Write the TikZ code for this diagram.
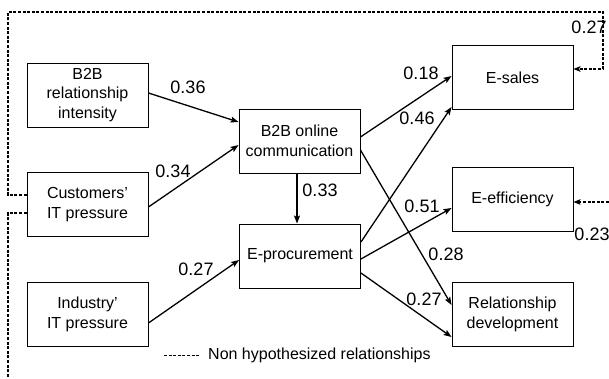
\documentclass[tikz,border=0pt]{standalone}
\usepackage{fontspec}
\setmainfont{Liberation Sans}
\usetikzlibrary{arrows.meta}
\begin{document}
\begin{tikzpicture}[x=1pt,y=-1pt,
  box/.style={draw, line width=0.9pt, minimum width=121pt, minimum height=64pt, inner sep=0pt, align=center, font=\fontsize{16}{19.5}\selectfont},
  lbl/.style={font=\fontsize{18}{20}\selectfont, inner sep=0pt},
  arr/.style={line width=1.3pt, -{Stealth[length=8pt,width=6pt,inset=1.5pt]}},
  darr/.style={line width=1.2pt, dash pattern=on 3pt off 1.6pt},
  tip/.style={-{Stealth[length=7pt,width=5.5pt,inset=1.5pt]}}]
\useasboundingbox (0,0) rectangle (609,378);
% boxes
\node[box] (bri) at (87.5,95) {B2B\\relationship\\intensity};
\node[box] (cus) at (87.5,204.5) {Customers’\\IT pressure};
\node[box] (ind) at (87.5,314.5) {Industry’\\IT pressure};
\node[box] (com) at (299.5,141) {B2B online\\communication};
\node[box] (pro) at (300,256) {E-procurement};
\node[box] (sal) at (512.5,77.5) {E-sales};
\node[box] (eff) at (512.5,199) {E-efficiency};
\node[box] (rel) at (512.5,314.5) {Relationship\\development};
% solid arrows
\draw[arr] ([yshift=2pt]bri.east) -- ([yshift=19pt]com.west);
\draw[arr] ([yshift=-2.5pt]cus.east) -- ([yshift=-4pt]com.west);
\draw[arr] ([yshift=-8.5pt]ind.east) -- ([yshift=-4pt]pro.west);
\draw[arr] ([xshift=-2.5pt]com.south) -- ([xshift=-3pt]pro.north);
\draw[arr] ([yshift=4pt]com.east) -- ([yshift=1.5pt]sal.west);
\draw[arr] ([yshift=14pt]pro.east) -- ([yshift=3pt]sal.south west);
\draw[arr] ([yshift=-3pt]pro.east) -- ([yshift=-9pt]eff.west);
\draw[arr] ([yshift=-9pt]com.east) -- ([yshift=9.5pt]rel.west);
\draw[arr] ([yshift=-17pt]pro.east) -- ([yshift=-22.5pt]rel.west);
% dashed relationships
\coordinate (d1) at (8,195);
\coordinate (d2) at (8,12);
\coordinate (d3) at (603,12);
\coordinate (d4) at (603,69);
\draw[darr, tip] (cus.west |- d1) -- (d1) -- (d2) -- (d3) -- (d4) -- (sal.east |- d4);
\coordinate (e1) at (8,213);
\coordinate (e2) at (8,378);
\draw[darr] (cus.west |- e1) -- (e1) -- (e2);
\coordinate (f1) at (609,202);
\draw[darr, tip] (f1) -- (eff.east |- f1);
% labels
\node[lbl] (l1) at (188,87) {0.36};
\node[lbl] (l2) at (173,171) {0.34};
\node[lbl] (l3) at (196,269) {0.27};
\node[lbl] (l4) at (320,190) {0.33};
\node[lbl] (l5) at (421,73) {0.18};
\node[lbl] (l6) at (417,118) {0.46};
\node[lbl] (l7) at (422,206) {0.51};
\node[lbl] (l8) at (446,254) {0.28};
\node[lbl] (l9) at (424,299) {0.27};
\node[lbl] (l10) at (589,27) {0.27};
\node[lbl] (l11) at (592,234) {0.23};
% legend
\coordinate (g1) at (164,355);
\coordinate (g2) at (200,355);
\draw[line width=1pt, dash pattern=on 3pt off 1.6pt] (g1) -- (g2);
\node[anchor=west, inner sep=0pt, font=\fontsize{16}{19}\selectfont] (leg) at (208,355) {Non hypothesized relationships};
\end{tikzpicture}
\end{document}
